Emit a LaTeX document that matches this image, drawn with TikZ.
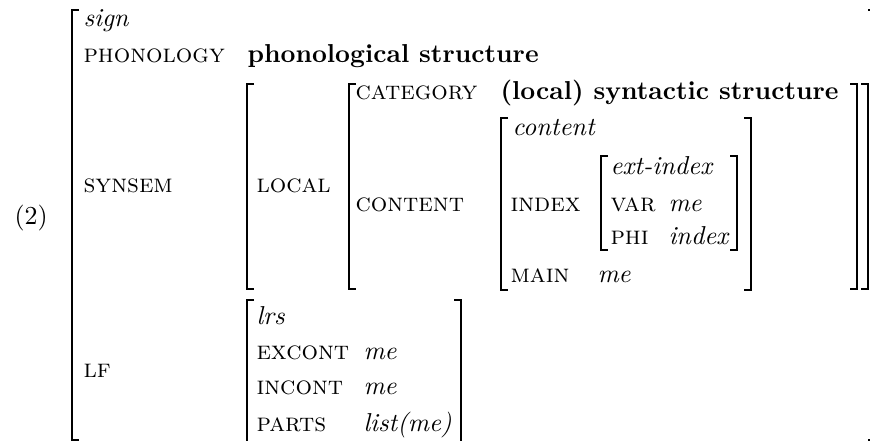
\documentclass[tikz,border=0pt]{standalone}
\usepackage{tikz}

\newcommand{\avmleft}[3]{\draw[brk] (#1,#2) ++(7,0) -- (#1,#2) -- (#1,#3) -- ++(7,0);}
\newcommand{\avmright}[3]{\draw[brk] (#1,#2) ++(-7,0) -- (#1,#2) -- (#1,#3) -- ++(-7,0);}

\begin{document}
\begin{tikzpicture}[x=0.386pt, y=-0.386pt,
  brk/.style={line width=0.6pt},
  attr/.style={anchor=base west, inner sep=0pt, font=\scshape},
  val/.style={anchor=base west, inner sep=0pt, font=\itshape},
  bval/.style={anchor=base west, inner sep=0pt, font=\bfseries}]
 \useasboundingbox (0,0) rectangle (870,441);
 \clip (0,0) rectangle (870,441);
 \node[anchor=base west, inner sep=0pt] (num) at (14,225) {(2)};
 % sign
 \avmleft{72}{10}{440}
 \avmright{875}{10}{440}
 \node[val] (sign) at (83,27) {sign};
 \node[attr] (phon) at (83,63) {phonology};
 \node[bval] (phonval) at (247,63) {phonological structure};
 \node[attr] (synsem) at (83,193) {synsem};
 \node[attr] (lf) at (83,378) {lf};
 % synsem value
 \avmleft{247}{84}{289}
 \avmright{868}{84}{289}
 \node[attr] (local) at (256,193) {local};
 \avmleft{349}{84}{289}
 \avmright{857}{84}{289}
 \node[attr] (cat) at (355,100) {category};
 \node[bval] (catval) at (500,100) {(local) syntactic structure};
 \node[attr] (cont) at (355,212) {content};
 % content value
 \avmleft{501}{118}{290}
 \avmright{751}{118}{290}
 \node[val] (content) at (512,136) {content};
 \node[attr] (index) at (510,212) {index};
 \node[attr] (main) at (510,283) {main};
 \node[val] (mainval) at (597,283) {me};
 \begin{scope}
  \avmleft{601}{156}{250}
  \avmright{737}{156}{250}
  \node[val] (extidx) at (610,175) {ext-index};
  \node[attr] (var) at (610,212) {var};
  \node[val] (varval) at (668,212) {me};
  \node[attr] (phi) at (610,245) {phi};
  \node[val] (phival) at (668,245) {index};
 \end{scope}
 % lf value
 \avmleft{247}{300}{455}
 \avmright{461}{300}{455}
 \node[val] (lrs) at (256,325) {lrs};
 \node[attr] (excont) at (256,360) {excont};
 \node[val] (excontval) at (363,360) {me};
 \node[attr] (incont) at (256,395) {incont};
 \node[val] (incontval) at (363,395) {me};
 \node[attr] (parts) at (256,432) {parts};
 \node[val] (partsval) at (363,432) {list(me)};
\end{tikzpicture}
\end{document}
